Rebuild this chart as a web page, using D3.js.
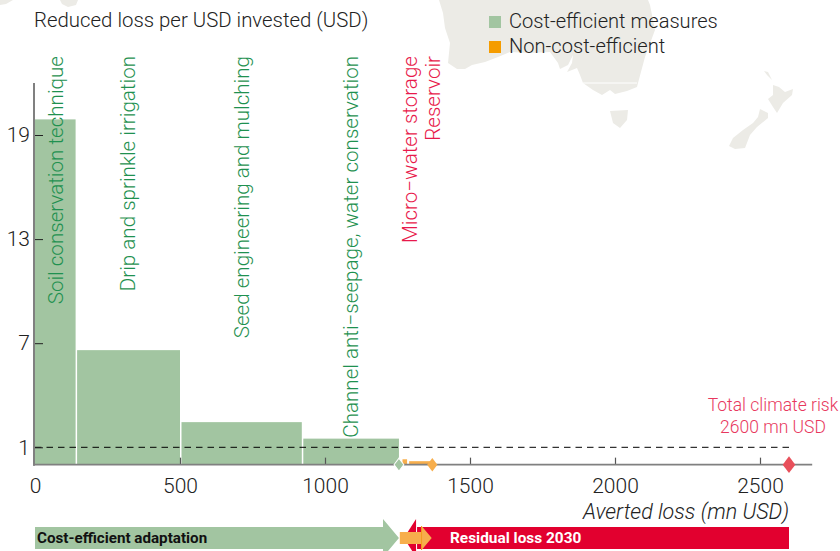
<!DOCTYPE html>
<html>
<head>
<meta charset="utf-8">
<script src="https://cdn.jsdelivr.net/npm/d3@7"></script>
<style>
  html, body { margin: 0; padding: 0; background: #fff; }
  svg { display: block; }
  text { font-family: Roboto, "Liberation Sans", sans-serif; font-weight: 300; }
</style>
</head>
<body>
<div id="chart-area"></div>
<script>
// measures, ordered by how much loss they save per USD
const measures = [
  "Soil conservation technique",
  "Drip and sprinkle irrigation",
  "Seed engineering and mulching",
  "Channel anti\u2212seepage, water conservation",
  "Micro\u2212water storage",
  "Reservoir"
];
const startLoss = [0, 140, 500, 920, 1262, 1285];
const endLoss = [140, 500, 920, 1255, 1283, 1370];
const lossPerUsd = [19.9, 6.6, 2.45, 1.5, 0.31, 0.2];
const costEfficient = [true, true, true, true, false, false];

const xTicks = [0, 500, 1000, 1500, 2000, 2500];
const yTicks = [1, 7, 13, 19];

const markerLoss = [1255, 1370, 2600];
const breakEven = 1;
const totalRisk = 2600;
const legendLabels = ["Cost-efficient measures", "Non-cost-efficient"];

const width = 840, height = 551;
const green = "#a2c5a1", orange = "#f59c00", lightOrange = "#f7ae4c", red = "#e2002f";
const greenText = "#1f9150", redText = "#e8194b";

const svg = d3.select("#chart-area").append("svg")
  .attr("width", width)
  .attr("height", height);

// map in the background, only decoration
const land = "#ecebe6";
const mapShapes = [
  "M439,0L443,13L445,28L450,43L448,63L457,69L465,69L472,65L485,62L498,57L510,52L530,53L550,52L558,63L560,69L568,65L573,55L572,63L567,72L577,68L580,75L583,83L593,90L602,95L610,90L615,94L627,91L637,87L638,83L645,57L655,30L650,5L648,0Z",
  "M610,111L628,110L627,120L620,128L613,123Z",
  "M773,85L779,87L785,92L793,89L792,95L783,103L777,113L773,107L768,99L773,95Z",
  "M764,71L768,72L772,80L767,75Z",
  "M760,109L768,113L768,118L757,127L750,135L745,148L735,149L729,146L733,138L743,130L753,123L758,117Z",
  "M0,0L13,0L6,4L0,5Z",
  "M60,0L78,0L76,5L68,7L62,4Z"
];
svg.selectAll(".land").data(mapShapes).enter().append("path")
  .attr("class", "land")
  .attr("d", d => d)
  .attr("fill", land);
svg.append("line")
  .attr("x1", 583).attr("x2", 637).attr("y1", 83).attr("y2", 83)
  .attr("stroke", "#fff").attr("stroke-width", 1);

// scales
const x = d3.scaleLinear().domain([0, 2500]).range([35, 760]);
const y = d3.scaleLinear().domain([1, 19]).range([447.3, 135]);
const yAxisTop = 22;
const xAxisEnd = 2680;

// bars
const rows = measures.map((name, i) => ({
  name: name,
  start: startLoss[i],
  end: endLoss[i],
  value: lossPerUsd[i],
  ok: costEfficient[i]
}));

svg.selectAll(".bar").data(rows).enter().append("rect")
  .attr("class", "bar")
  .attr("x", d => x(d.start) + (d.start > 0 ? 1.5 : 0))
  .attr("y", d => y(d.value))
  .attr("width", d => x(d.end) - x(d.start) - (d.start > 0 ? 1.5 : 0))
  .attr("height", d => y(0) - y(d.value))
  .attr("fill", d => d.ok ? green : lightOrange);

// dashed line at 1 USD
svg.append("line")
  .attr("x1", x(0)).attr("x2", x(totalRisk))
  .attr("y1", y(breakEven)).attr("y2", y(breakEven))
  .attr("stroke", "#000").attr("stroke-width", 1)
  .attr("stroke-dasharray", "6.5,5");

// AXIS
const xAxis = d3.axisBottom(x).tickValues(xTicks).tickFormat(d3.format("d")).tickSize(0).tickPadding(13);
const yAxis = d3.axisLeft(y).tickValues(yTicks).tickSize(0).tickPadding(5);

const xAxisGroup = svg.append("g")
  .attr("transform", "translate(0," + y(0) + ")")
  .call(xAxis);
const yAxisGroup = svg.append("g")
  .attr("transform", "translate(" + x(0) + ",0)")
  .call(yAxis);

[xAxisGroup, yAxisGroup].forEach(g => {
  g.select(".domain").remove();
  g.selectAll("text").attr("font-size", 21).attr("fill", "#222")
    .style("font-family", "Roboto, sans-serif").style("font-weight", 300);
});

// ticks point inwards
xAxisGroup.selectAll(".tick").filter(d => d > 0).append("line")
  .attr("y1", 0).attr("y2", -7).attr("stroke", "#555").attr("stroke-width", 1.2);
yAxisGroup.selectAll(".tick").append("line")
  .attr("x1", 0).attr("x2", 8).attr("stroke", "#222").attr("stroke-width", 1);

svg.append("line")
  .attr("x1", x(0) - 1).attr("x2", x(0) - 1)
  .attr("y1", y(yAxisTop)).attr("y2", y(0) + 1)
  .attr("stroke", "#808080").attr("stroke-width", 2);
svg.append("line")
  .attr("x1", x(0) - 2).attr("x2", x(xAxisEnd))
  .attr("y1", y(0)).attr("y2", y(0))
  .attr("stroke", "#808080").attr("stroke-width", 1.6);

// diamonds on the axis
const markerColors = [green, lightOrange, "#e8505b"];
const markerScale = [1, 1.05, 1.3];
svg.selectAll(".marker").data(markerLoss).enter().append("path")
  .attr("class", "marker")
  .attr("d", d3.symbol(d3.symbolDiamond, 62))
  .attr("transform", (d, i) => "translate(" + x(d) + "," + y(0) + ") scale(" + 1.15 * markerScale[i] + "," + 0.88 * markerScale[i] + ")")
  .attr("fill", (d, i) => markerColors[i])
  .attr("stroke", "#fff")
  .attr("stroke-width", (d, i) => i === 0 ? 1 : 0);

// names of the measures, turned upright
const labelShift = [7.5, 7.5, 8, 7.5, 12.5, 20.5];
svg.selectAll(".measure").data(rows).enter().append("text")
  .attr("class", "measure")
  .attr("transform", (d, i) => "translate(" + (x((d.start + d.end) / 2) + labelShift[i]) + ",56) rotate(-90)")
  .attr("text-anchor", "end")
  .attr("font-size", 20.6)
  .attr("fill", d => d.ok ? greenText : redText)
  .text(d => d.name);

// titles
svg.append("text")
  .attr("x", 34).attr("y", 27)
  .attr("font-size", 20.4).attr("fill", "#222")
  .text("Reduced loss per USD invested (USD)");

svg.append("text")
  .attr("x", x(totalRisk)).attr("y", 519)
  .attr("text-anchor", "end")
  .attr("font-size", 21.5).attr("font-style", "italic").attr("fill", "#222")
  .text("Averted loss (mn USD)");

svg.selectAll(".risk").data(["Total climate risk", totalRisk + " mn USD"]).enter().append("text")
  .attr("class", "risk")
  .attr("x", 773)
  .attr("y", (d, i) => 411 + i * 22)
  .attr("text-anchor", "middle")
  .attr("font-size", 17.5).attr("fill", "#e8385e")
  .text(d => d);

// legend
const legendColors = [green, orange];
const legend = svg.selectAll(".legend").data(legendLabels).enter().append("g")
  .attr("class", "legend")
  .attr("transform", (d, i) => "translate(489," + (16 + i * 25) + ")");
legend.append("rect").attr("width", 12).attr("height", 12).attr("fill", (d, i) => legendColors[i]);
legend.append("text").attr("x", 20).attr("y", 11.5)
  .attr("font-size", 20.1).attr("fill", "#222")
  .text(d => d);

// arrows along the bottom
const arrowY = 538, barHalf = 11, headHalf = 19;
const adaptEnd = endLoss[3], residualEnd = totalRisk, residualTip = 1272, residualBase = 1314, adaptBase = 1200;
const line = d3.line();

svg.append("path")
  .attr("d", line([
    [x(0), arrowY - barHalf], [x(adaptBase), arrowY - barHalf], [x(adaptBase), arrowY - headHalf],
    [x(adaptEnd), arrowY], [x(adaptBase), arrowY + headHalf], [x(adaptBase), arrowY + barHalf], [x(0), arrowY + barHalf]
  ]) + "Z")
  .attr("fill", green);

svg.append("path")
  .attr("d", line([
    [x(residualTip), arrowY], [x(residualBase), arrowY - headHalf], [x(residualBase), arrowY + headHalf]
  ]) + "Z")
  .attr("fill", red);
svg.append("rect")
  .attr("x", x(residualBase) + 1).attr("y", arrowY - barHalf)
  .attr("width", x(residualEnd) - x(residualBase) - 1).attr("height", barHalf * 2)
  .attr("fill", red);

const nonStart = 1258, nonEnd = 1368, nonBase = 1333;
svg.append("path")
  .attr("d", line([
    [x(nonStart), arrowY - 6], [x(nonBase), arrowY - 6], [x(nonBase), arrowY - 12],
    [x(nonEnd), arrowY], [x(nonBase), arrowY + 12], [x(nonBase), arrowY + 6], [x(nonStart), arrowY + 6]
  ]) + "Z")
  .attr("fill", lightOrange);
svg.append("line")
  .attr("x1", x(nonBase)).attr("x2", x(nonBase))
  .attr("y1", arrowY - 12).attr("y2", arrowY + 12)
  .attr("stroke", "#f39a1e").attr("stroke-width", 1);

svg.append("text")
  .attr("x", 37).attr("y", 543)
  .attr("font-size", 15.2).attr("fill", "#111")
  .style("font-weight", 700)
  .text("Cost-efficient adaptation");
svg.append("text")
  .attr("x", 450).attr("y", 543)
  .attr("font-size", 15.4).attr("fill", "#fff")
  .style("font-weight", 700)
  .text("Residual loss 2030");
</script>
</body>
</html>
